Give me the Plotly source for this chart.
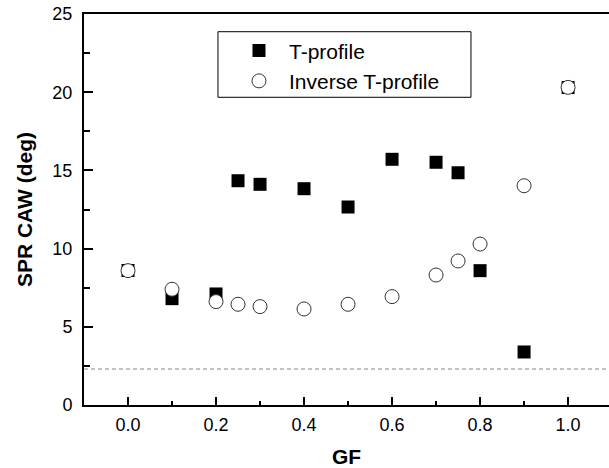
import plotly.graph_objects as go

gf = [0.0, 0.1, 0.2, 0.25, 0.3, 0.4, 0.5, 0.6, 0.7, 0.75, 0.8, 0.9, 1.0]
t_profile = [8.6, 6.8, 7.1, 14.34, 14.11, 13.83, 12.66, 15.71, 15.52, 14.85, 8.59, 3.39, 20.3]
inv_t_profile = [8.59, 7.40, 6.61, 6.44, 6.29, 6.14, 6.44, 6.93, 8.31, 9.21, 10.29, 14.02, 20.31]
threshold = 2.3

x_ticks = [0.0, 0.2, 0.4, 0.6, 0.8, 1.0]
x_ticklabels = ["0.0", "0.2", "0.4", "0.6", "0.8", "1.0"]
x_minor_ticks = [0.1, 0.3, 0.5, 0.7, 0.9]
y_ticks = [0, 5, 10, 15, 20, 25]
y_ticklabels = ["0", "5", "10", "15", "20", "25"]
y_minor_ticks = [2.5, 7.5, 12.5, 17.5, 22.5]

X_RANGE = [-0.1, 1.093]
Y_RANGE = [0, 25]
FONT = "Liberation Sans, Arial, Helvetica, sans-serif"

fig = go.Figure()
fig.add_trace(go.Scatter(
    x=gf, y=t_profile, mode="markers", name="T-profile", legendgroup="a",
    marker=dict(symbol="square", size=13, color="black", line=dict(width=0)),
))
fig.add_trace(go.Scatter(
    x=gf, y=inv_t_profile, mode="markers", name="Inverse T-profile", legendgroup="b",
    marker=dict(symbol="circle", size=14, color="white", line=dict(width=1, color="#333333")),
))
# invisible carrier trace for the minor-tick overlay axes
fig.add_trace(go.Scatter(x=[None], y=[None], xaxis="x2", yaxis="y2", showlegend=False,
                         hoverinfo="skip", mode="markers"))

fig.add_shape(type="line", xref="paper", x0=0, x1=1, yref="y", y0=threshold, y1=threshold,
              line=dict(color="#888888", width=1, dash="4px,3px"), layer="below")
# legend frame
fig.add_shape(type="rect", xref="paper", yref="paper", x0=0.2552, x1=0.7371, y0=0.787, y1=0.9547,
              line=dict(color="black", width=1), fillcolor="rgba(0,0,0,0)", layer="above")

fig.update_layout(
    width=609, height=468,
    margin=dict(l=84, r=0, t=14, b=63),
    paper_bgcolor="white", plot_bgcolor="white",
    font=dict(family=FONT, color="black", size=18),
    showlegend=True,
    legend=dict(
        x=0.2552, y=0.958, xanchor="left", yanchor="top",
        borderwidth=0, bgcolor="rgba(0,0,0,0)",
        font=dict(family=FONT, size=21, color="black"),
        tracegroupgap=0, indentation=11, itemwidth=50,
    ),
    xaxis=dict(
        range=X_RANGE, showgrid=False, zeroline=False,
        showline=True, linecolor="black", linewidth=2, mirror=True,
        ticks="inside", ticklen=8, tickwidth=2, tickcolor="black",
        tickmode="array", tickvals=x_ticks, ticktext=x_ticklabels,
        ticklabelstandoff=2,
        title=dict(text="<b>GF</b>", font=dict(family=FONT, size=21), standoff=18),
        automargin=False,
    ),
    yaxis=dict(
        range=Y_RANGE, showgrid=False, zeroline=False,
        showline=True, linecolor="black", linewidth=2, mirror=False,
        ticks="inside", ticklen=9, tickwidth=2, tickcolor="black",
        tickmode="array", tickvals=y_ticks, ticktext=y_ticklabels,
        ticklabelstandoff=6,
        title=dict(text="<b>SPR CAW (deg)</b>", font=dict(family=FONT, size=21), standoff=14),
        automargin=False,
    ),
    xaxis2=dict(
        overlaying="x", anchor="y2", side="bottom", range=X_RANGE,
        showgrid=False, zeroline=False, showline=False, showticklabels=False,
        ticks="inside", ticklen=4, tickwidth=1.5, tickcolor="black",
        tickmode="array", tickvals=x_minor_ticks,
    ),
    yaxis2=dict(
        overlaying="y", anchor="x2", side="left", range=Y_RANGE,
        showgrid=False, zeroline=False, showline=False, showticklabels=False,
        ticks="inside", ticklen=6, tickwidth=1.5, tickcolor="black",
        tickmode="array", tickvals=y_minor_ticks,
    ),
)

fig.write_html("out.html")
